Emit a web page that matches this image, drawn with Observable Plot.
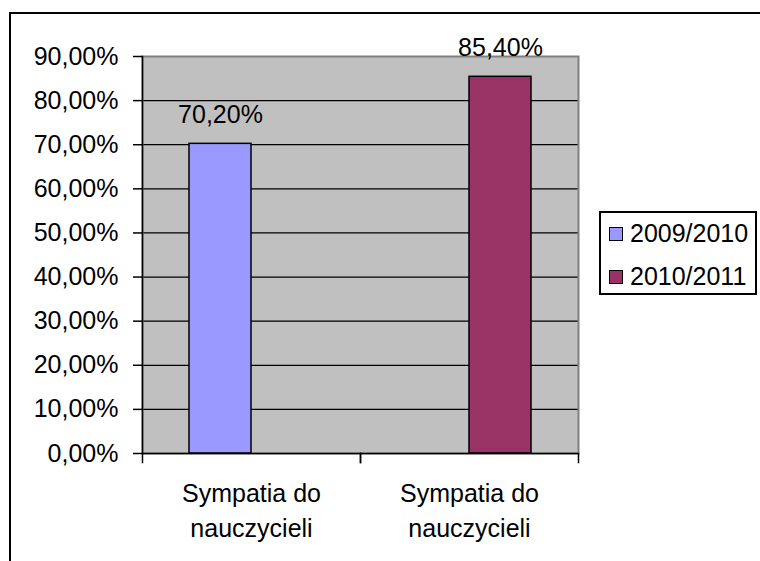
<!DOCTYPE html>
<html>
<head>
<meta charset="utf-8">
<script src="https://cdn.jsdelivr.net/npm/d3@7"></script>
<script src="https://cdn.jsdelivr.net/npm/@observablehq/plot@0.6"></script>
<style>
  html, body { margin: 0; padding: 0; background: #fff; }
  #wrap { position: relative; width: 760px; height: 561px; overflow: hidden; font-family: "Liberation Sans", Arial, sans-serif; }
  #outer { position: absolute; left: 9px; top: 12px; width: 800px; height: 600px; border: 2px solid #000; box-sizing: border-box; pointer-events: none; }
  #legend { position: absolute; left: 599px; top: 211px; width: 158px; height: 84px; border: 2px solid #000; box-sizing: border-box; background: #fff; font-size: 25px; color: #000; }
  #legend .item { position: absolute; left: 8px; display: flex; align-items: center; white-space: nowrap; }
  #legend .sw { width: 12px; height: 12px; border: 1px solid #000; margin-right: 7px; }
</style>
</head>
<body>
<div id="wrap">
  <div id="chart"></div>
  <div id="outer"></div>
  <div id="legend"></div>
</div>
<script>
const categoryIds = ["cat1", "cat2"];
const categoryLabels = ["Sympatia do\nnauczycieli", "Sympatia do\nnauczycieli"];
const seriesNames = ["2009/2010", "2010/2011"];
const seriesColors = ["#9999FF", "#993366"];
const barCategory = ["cat1", "cat2"];
const barSeries = ["2009/2010", "2010/2011"];
const barValues = [70.2, 85.4];
const yTicks = [0, 10, 20, 30, 40, 50, 60, 70, 80, 90];
const gridTicks = [10, 20, 30, 40, 50, 60, 70, 80];

const data = barValues.map((v, i) => ({cat: barCategory[i], series: barSeries[i], value: v}));
const fmt = d => d.toFixed(2).replace(".", ",") + "%";
const catLabel = Object.fromEntries(categoryIds.map((c, i) => [c, categoryLabels[i]]));

const chart = Plot.plot({
  width: 760,
  height: 561,
  marginLeft: 142,
  marginRight: 182,
  marginTop: 56,
  marginBottom: 108,
  style: {fontFamily: "'Liberation Sans', Arial, sans-serif", fontSize: "25px", color: "#000", background: "transparent"},
  fx: {domain: categoryIds, padding: 0},
  x: {domain: seriesNames, paddingInner: 0, paddingOuter: 0.75, axis: null},
  y: {domain: [0, 90]},
  color: {domain: seriesNames, range: seriesColors},
  marks: [
    Plot.frame({fill: "#c0c0c0", stroke: "#c0c0c0", strokeWidth: 1}),
    Plot.ruleY(gridTicks, {stroke: "#000", strokeWidth: 1.2}),
    Plot.frame({facet: "super", stroke: "#808080", strokeWidth: 2}),
    Plot.barY(data, {fx: "cat", x: "series", y: "value", fill: "series", stroke: "#000", strokeWidth: 1.5}),
    Plot.text(data, {fx: "cat", x: "series", y: "value", text: d => fmt(d.value), lineAnchor: "bottom", dy: -21, fontSize: 25, fill: "#000"}),
    Plot.frame({facet: "super", anchor: "left", stroke: "#000", strokeWidth: 1.5}),
    Plot.ruleY([0], {stroke: "#000", strokeWidth: 1.5}),
    Plot.frame({anchor: "left", stroke: "#000", strokeWidth: 1.5, insetTop: 397, insetBottom: -9}),
    Plot.frame({anchor: "right", stroke: "#000", strokeWidth: 1.5, insetTop: 397, insetBottom: -9}),
    Plot.axisY({ticks: yTicks, tickFormat: fmt, tickSize: 9, tickPadding: 15, label: null, fontSize: 25, strokeWidth: 1.5}),
    Plot.axisFx({anchor: "bottom", tickSize: 0, tickPadding: 24, tickFormat: d => catLabel[d], label: null, fontSize: 25, lineHeight: 1.4})
  ]
});
document.getElementById("chart").appendChild(chart);

const legend = document.getElementById("legend");
seriesNames.forEach((name, i) => {
  const item = document.createElement("div");
  item.className = "item";
  item.style.top = (i === 0 ? 6 : 49) + "px";
  const sw = document.createElement("div");
  sw.className = "sw";
  sw.style.background = seriesColors[i];
  const t = document.createElement("span");
  t.textContent = name;
  item.appendChild(sw);
  item.appendChild(t);
  legend.appendChild(item);
});
</script>
</body>
</html>
